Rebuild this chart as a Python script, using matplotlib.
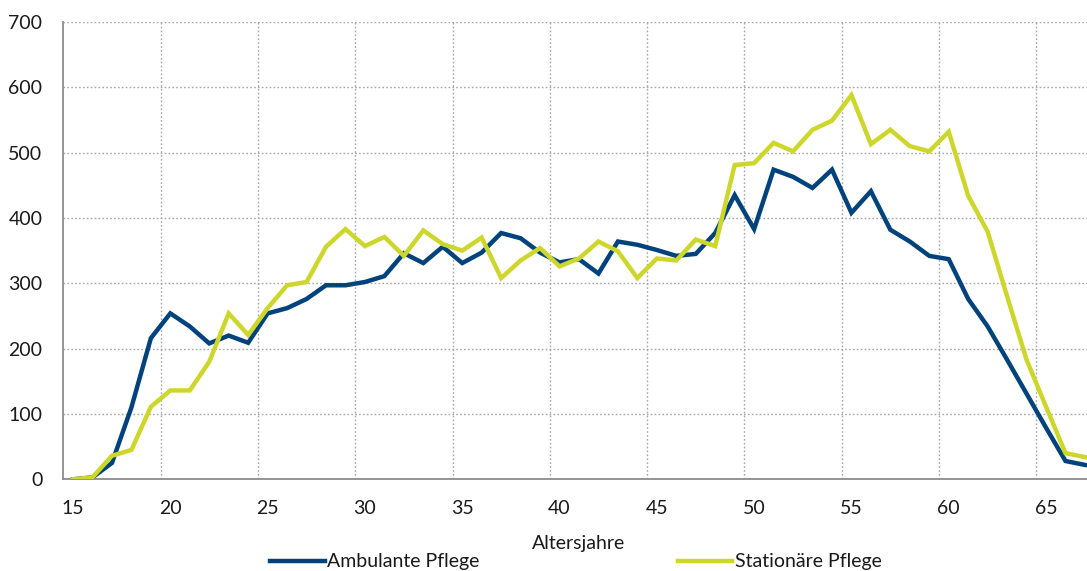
import matplotlib
matplotlib.use("Agg")
import matplotlib.pyplot as plt
from matplotlib.ticker import FixedLocator

plt.rcParams['font.family'] = ['Lato', 'DejaVu Sans']

ages = list(range(15, 68))
ambulant = [0, 3, 25, 110, 216, 254, 234, 208, 220, 209,
            254, 262, 276, 297, 297, 302, 311, 346, 331, 356,
            331, 347, 377, 369, 347, 332, 337, 315, 364, 359,
            351, 342, 345, 377, 435, 383, 474, 463, 446, 474,
            408, 441, 382, 364, 342, 337, 276, 234, 183, 131,
            79, 28, 22]
stationaer = [0, 3, 36, 45, 111, 136, 136, 180, 254, 221,
              262, 297, 302, 356, 383, 357, 371, 342, 381, 360,
              350, 370, 308, 335, 354, 326, 338, 364, 349, 308,
              338, 335, 367, 357, 481, 484, 515, 502, 535, 549,
              588, 513, 535, 510, 502, 532, 434, 379, 280, 183,
              111, 40, 34]
xticks = [15, 20, 25, 30, 35, 40, 45, 50, 55, 60, 65]
yticks = [0, 100, 200, 300, 400, 500, 600, 700]
labels = ["Ambulante Pflege", "Stationäre Pflege"]
colors = ["#00427C", "#CDD72B"]

W, H = 1087, 571
fig = plt.figure(figsize=(W / 100, H / 100), dpi=100)
step = 19.46
left_px, bottom_px, top_px = 63.3, 479.3, 22.0
ax = fig.add_axes([left_px / W, (H - bottom_px) / H,
                   53 * step / W, (bottom_px - top_px) / H])

l1, = ax.plot(ages, ambulant, color=colors[0], lw=3.2, solid_joinstyle='miter', zorder=3)
l2, = ax.plot(ages, stationaer, color=colors[1], lw=3.2, solid_joinstyle='miter', zorder=3)

ax.set_xlim(14.5, 67.5)
ax.set_ylim(0, 700)
ax.set_xticks(xticks)
ax.xaxis.set_minor_locator(FixedLocator([x - 0.5 for x in xticks[1:]]))
ax.set_yticks(yticks)
ax.tick_params(axis='both', which='both', length=0, labelsize=14, colors='#1a1a1a')
ax.tick_params(axis='x', pad=15)
ax.tick_params(axis='y', pad=15)
ax.grid(True, which='major', axis='y', color='#A6A6A6', linestyle=(0, (1.2, 1.6)), lw=1.0)
ax.grid(True, which='minor', axis='x', color='#A6A6A6', linestyle=(0, (1.2, 1.6)), lw=1.0)
ax.grid(False, which='major', axis='x')
for s in ['top', 'right']:
    ax.spines[s].set_visible(False)
for s in ['left', 'bottom']:
    ax.spines[s].set_color('#8C8C8C')
    ax.spines[s].set_linewidth(1.3)

fig.text(579 / W, 1 - 543 / H, "Altersjahre", ha='center', va='center', fontsize=14, color='#1a1a1a')
fig.legend([l1, l2], labels, loc='center', bbox_to_anchor=(576 / W, 1 - 562 / H),
           ncol=2, frameon=False, fontsize=14, handlelength=2.8, handletextpad=0.12,
           columnspacing=10.2, borderaxespad=0, labelcolor='#1a1a1a')

fig.savefig("out.png", dpi=100)
